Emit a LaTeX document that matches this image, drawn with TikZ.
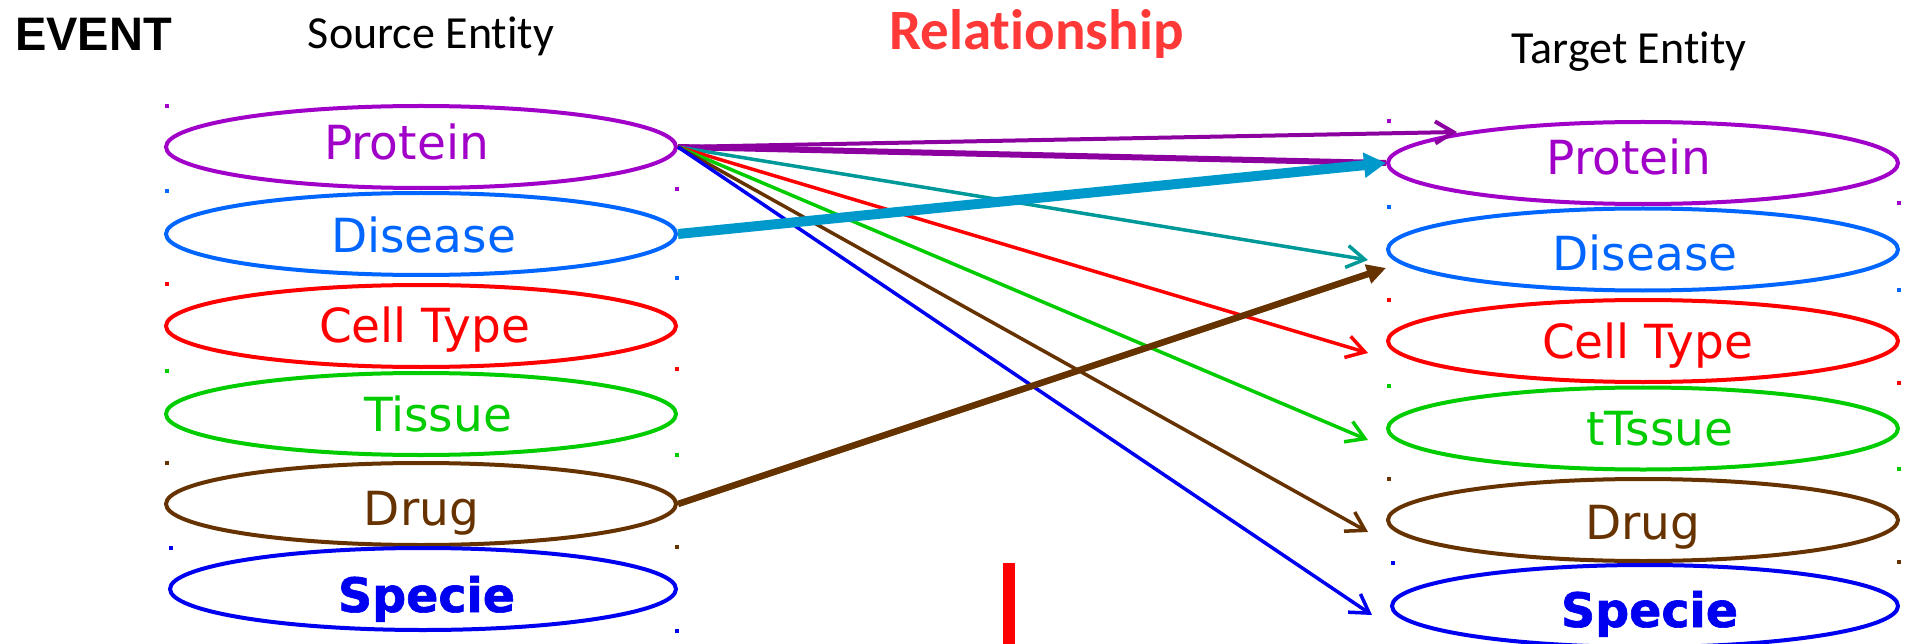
\documentclass[tikz,border=0pt]{standalone}
\usepackage{fontspec}
\setmainfont{DejaVu Sans}[BoldFeatures={FakeBold=1.3}]
\newfontfamily\arialfont{Liberation Sans}
\newfontfamily\calibfont{Carlito}[Ligatures={NoCommon}]
\usetikzlibrary{arrows.meta,shapes.geometric,calc}
\definecolor{cPurple}{RGB}{160,0,200}
\definecolor{cPurpleArr}{RGB}{140,0,160}
\definecolor{cDis}{RGB}{0,102,255}
\definecolor{cRed}{RGB}{255,0,0}
\definecolor{cGreen}{RGB}{0,204,0}
\definecolor{cBrown}{RGB}{102,51,0}
\definecolor{cBlue}{RGB}{0,0,240}
\definecolor{cTeal}{RGB}{0,153,153}
\definecolor{cCyan}{RGB}{0,153,204}
\definecolor{cRel}{RGB}{255,56,56}
\begin{document}
\begin{tikzpicture}[x=1pt,y=-1pt,
  ell/.style={draw, ellipse, line width=4pt, minimum width=510pt, minimum height=82pt, inner sep=0pt},
  lbl/.style={font=\fontsize{47}{50}\selectfont, inner sep=0pt, anchor=base},
  blbl/.style={font=\bfseries\fontsize{47.5}{50}\selectfont, inner sep=0pt, anchor=base},
  sq/.style={fill, minimum size=4pt, inner sep=0pt},
  fan/.style={line width=3.5pt, -{Straight Barb[length=18pt,width=22pt,line width=3.5pt]}}
]
\useasboundingbox (0,0) rectangle (1910,644);

% titles
\node[font=\arialfont\bfseries\fontsize{47}{50}\selectfont, inner sep=0pt, anchor=base west] (event) at (15,51) {EVENT};
\node[font=\calibfont\fontsize{46}{50}\selectfont, inner sep=0pt, anchor=base] (srcT) at (431,49) {Source Entity};
\node[font=\calibfont\bfseries\fontsize{57}{60}\selectfont, inner sep=0pt, anchor=base, text=cRel] (relT) at (1036.5,50) {Relationship};
\node[font=\calibfont\fontsize{46}{50}\selectfont, inner sep=0pt, anchor=base] (tgtT) at (1629,64) {Target Entity};

% source ellipses
\node[ell, cPurple] (sP) at (421,147) {};
\node[ell, cDis] (sD) at (421,234) {};
\node[ell, cRed] (sC) at (421,326) {};
\node[ell, cGreen] (sT) at (421,414) {};
\node[ell, cBrown] (sDr) at (421,504) {};
\node[ell, cBlue, minimum width=506pt] (sS) at (423,589) {};

\node[lbl, text=cPurple] (sPt) at (406.5,160) {Protein};
\node[lbl, text=cDis] (sDt) at (423.5,253) {Disease};
\node[lbl, text=cRed] (sCt) at (424.5,342) {Cell Type};
\node[lbl, text=cGreen] (sTt) at (438,431) {Tissue};
\node[lbl, text=cBrown] (sDrt) at (421.5,525) {Drug};
\node[blbl, text=cBlue] (sSt) at (426.5,612) {Specie};

% target ellipses
\node[ell, cPurple] (tP) at (1643,163) {};
\node[ell, cDis] (tD) at (1643,249.5) {};
\node[ell, cRed] (tC) at (1643,341) {};
\node[ell, cGreen] (tT) at (1643,428.5) {};
\node[ell, cBrown] (tDr) at (1643,520) {};
\node[ell, cBlue, minimum width=506pt] (tS) at (1645,606) {};

\node[lbl, text=cPurple] (tPt) at (1629,175) {Protein};
\node[lbl, text=cDis] (tDt) at (1645,270) {Disease};
\node[lbl, text=cRed] (tCt) at (1647.5,358) {Cell Type};
\node[lbl, text=cGreen] (tTt) at (1660,445) {tTssue};
\node[lbl, text=cBrown] (tDrt) at (1643,539) {Drug};
\node[blbl, text=cBlue] (tSt) at (1649.5,627) {Specie};

% small squares
\foreach \n/\x/\y/\c in {a1/167/106/cPurple, a2/167/191/cDis, a3/167/284/cRed, a4/167/371/cGreen, a5/167/463/cBrown, a6/171/548/cBlue,
  b1/677/189/cPurple, b2/677/278/cDis, b3/677/369/cRed, b4/677/455/cGreen, b5/677/547/cBrown, b6/677/631/cBlue,
  c1/1389/121/cPurple, c2/1389/207/cDis, c3/1389/300/cRed, c4/1389/386/cGreen, c5/1389/479/cBrown, c6/1393/563/cBlue,
  d1/1899/203/cPurple, d2/1899/290/cDis, d3/1899/383/cRed, d4/1899/469/cGreen, d5/1899/562/cBrown}
  \node[sq, fill=\c] (\n) at (\x,\y) {};

% red bar
\node[fill=cRed, minimum width=12pt, minimum height=81pt, inner sep=0pt] (bar) at (1009,603.5) {};

% connectors
\draw[cPurpleArr, line width=4pt, -{Straight Barb[length=18pt,width=22pt,line width=4pt]}] (sP.east) -- ($(tP.west)+(71,-31)$);
\draw[cPurpleArr, line width=6pt] (sP.east) -- (tP.west);
\draw[fan, cTeal] (sP.east) -- ($(tD.west)+(-18,10.5)$);
\draw[fan, cRed] (sP.east) -- ($(tC.west)+(-18,12)$);
\draw[fan, cGreen] (sP.east) -- ($(tT.west)+(-18,11.5)$);
\draw[fan, cBrown] (sP.east) -- ($(tDr.west)+(-18,12)$);
\draw[fan, cBlue] (sP.east) -- ($(tS.west)+(-18,9)$);
\draw[cCyan, line width=10pt, -{Triangle[length=22pt,width=24pt]}] (sD.east) -- (tP.west);
\draw[cBrown, line width=6.5pt, -{Triangle[length=19pt,width=19pt]}] (sDr.east) -- ($(tD.west)+(0,18.5)$);
\end{tikzpicture}
\end{document}
